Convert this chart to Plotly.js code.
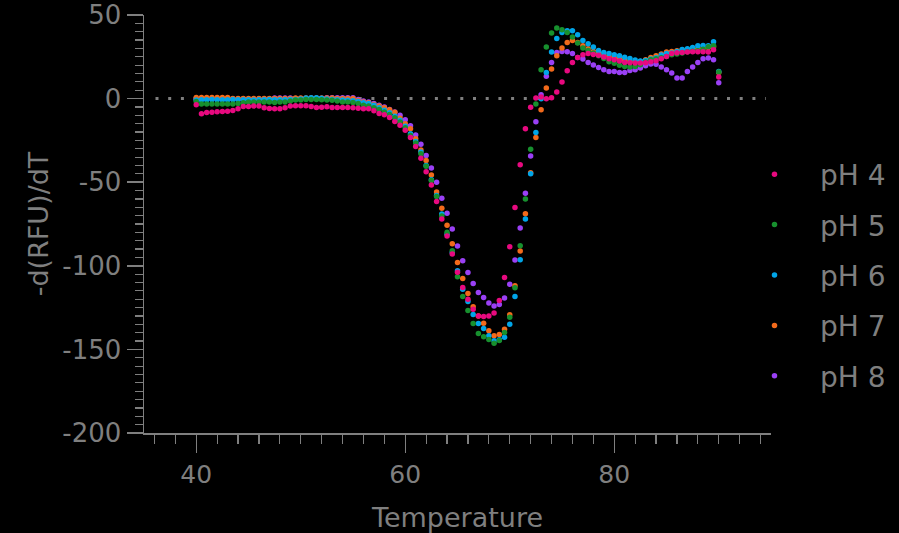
<!DOCTYPE html>
<html>
<head>
<meta charset="utf-8">
<script src="https://cdn.plot.ly/plotly-3.0.1.min.js"></script>
<style>html,body{margin:0;padding:0;background:#000;}#chart{width:899px;height:533px;}</style>
</head>
<body>
<div id="chart"></div>
<script>
var temperature = [40,40.5,41,41.5,42,42.5,43,43.5,44,44.5,45,45.5,46,46.5,47,47.5,48,48.5,49,49.5,
50,50.5,51,51.5,52,52.5,53,53.5,54,54.5,55,55.5,56,56.5,57,57.5,58,58.5,59,59.5,
60,60.5,61,61.5,62,62.5,63,63.5,64,64.5,65,65.5,66,66.5,67,67.5,68,68.5,69,69.5,
70,70.5,71,71.5,72,72.5,73,73.5,74,74.5,75,75.5,76,76.5,77,77.5,78,78.5,79,79.5,
80,80.5,81,81.5,82,82.5,83,83.5,84,84.5,85,85.5,86,86.5,87,87.5,88,88.5,89,89.5,90];

var seriesNames = ["pH 4","pH 5","pH 6","pH 7","pH 8"];

var pH4 = [-3.7,-9.1,-8.3,-8.1,-7.9,-7.7,-7.5,-7.1,-6.1,-4.7,-4.7,-4.5,-4.5,-5.5,-5.9,-6.1,-6.1,-5.5,-4.5,-4.3,
-4.3,-4.3,-4.7,-5.3,-5.1,-4.9,-5.3,-5.3,-5.3,-5.3,-5.5,-5.7,-6.1,-6.1,-7.3,-8.9,-9.7,-11.3,-13.7,-15.9,
-18.9,-23.3,-28.7,-35.7,-43.7,-51.6,-61.6,-72,-82.2,-93,-103.8,-113,-120,-126,-130,-130.3,-130,-128.2,-120.7,-107,
-88.6,-65.2,-39.5,-18.1,-5.1,0.3,0.9,-0.1,0.5,4,10,16.7,21.6,24.6,26.2,27,26.4,26,24.9,23.9,
23.3,22.5,21.6,21.4,21.3,21.3,21.4,22,22.6,23.8,25.2,27,27.4,27.6,27.8,28,28,28,27.8,29.2,12.9];

var pH5 = [-1.7,-3.3,-3.3,-3.3,-3.3,-3.3,-3.3,-3.3,-3.0,-2.5,-2.1,-2.1,-2.1,-2.1,-2.1,-2.3,-2.1,-2.1,-1.5,-0.8,
-0.8,-0.6,-0.5,-0.5,-0.7,-0.8,-1.0,-1.5,-2.0,-2.1,-2.3,-3.0,-4,-4.5,-5.5,-6.5,-8,-9.5,-11.5,-14,
-17.5,-22,-26.5,-33,-40.5,-49,-58.5,-70.2,-80,-91,-106.6,-118.3,-126.7,-134.5,-140.5,-142.5,-144.1,-146.3,-144.7,-139.9,
-130.7,-113.2,-88,-60,-30.3,-3.3,17.3,30.9,39.2,42.2,41.2,39.6,36.8,33.2,30.2,28.8,27.2,25.6,24.0,22,
21.1,20,19.2,18.9,19.2,20.2,21.9,23.2,23.8,24.4,25.2,26.2,26.7,27.3,28,28.3,28.6,29.5,31,31.6,15.9];

var pH6 = [-0.8,-0.7,-0.7,-0.6,-0.7,-0.7,-0.7,-0.6,-0.7,-0.7,-0.7,-0.8,-0.7,-0.7,-0.6,-0.7,-0.7,-0.7,-0.6,-0.5,
-0.3,0.3,0.5,0.5,0.2,-0.3,-0.5,-0.7,-0.8,-1.0,-1.3,-1.8,-2.5,-3,-4,-5.5,-7,-8.5,-10.5,-13,
-16.5,-21,-25.7,-32,-40,-48.5,-58,-69,-81.2,-92,-103,-114,-121.3,-129.1,-134.5,-137.5,-141.9,-144.9,-144.3,-142.7,
-134.9,-118.3,-96.4,-72,-45,-20.3,-0.1,15.6,27.9,36,39.6,40.6,40.6,38.2,34.8,32.8,30.8,28.8,27.6,27,
26.2,25.6,24.8,24,23.1,22.5,22.8,23.7,24.4,26.1,27,27.3,28.2,29.4,29.8,30.6,31.6,31.8,31.6,34,16.2];

var pH7 = [0.7,0.7,0.7,0.7,0.7,0.7,0.7,0.0,0.0,0.0,0.0,0.0,0.0,0.0,0.0,0.0,0.0,0.0,0.0,0.3,
0.3,0.3,0.3,0.3,0.3,0.3,0.3,0.0,0.0,0.0,0.0,-1.2,-2,-2.5,-3.5,-4.5,-5.5,-6.7,-8.1,-11.7,
-15,-18.1,-24,-30.7,-37,-45.7,-55.8,-65.6,-75.8,-86.8,-98,-107.6,-116.6,-124.5,-130,-134.3,-138.9,-141.9,-141.1,-138,
-129.3,-112,-91.2,-68.8,-44.3,-23.3,-6.7,6.3,17.7,25.6,30.3,33.6,34.8,33.6,31.6,29.8,28.2,27,26,25.2,
24.4,23.7,23,22.2,22,22.2,23.2,24.6,25.6,26.7,27.9,28.2,28.6,29,29.3,29.6,29.8,30,30.5,31,15.6];

var pH8 = [-0.3,-0.3,-0.3,-0.3,-0.3,-0.3,-0.3,-0.3,-0.3,-0.3,-0.3,-0.3,-0.3,-0.3,-0.3,0.3,0.3,0.3,0.3,0.0,
0.0,0.0,0.0,0.0,0.0,0.5,0.5,0.5,0.5,0.5,0.5,-0.5,-1.5,-2,-3,-4,-5,-6.5,-8,-10,
-12.7,-16.3,-21.7,-27.3,-34,-41.5,-50,-59.6,-68.6,-78,-88.2,-97,-104,-110.6,-116,-118.9,-122.2,-124,-123.1,-119.2,
-111.1,-96.6,-77.4,-56.6,-34.3,-13.9,2.3,13.3,21.6,27.6,28.2,28,27,24.6,23.7,21.6,20.1,18.6,17.3,16.2,
16.2,15.6,15.6,16.8,17.3,18.3,19.7,20.7,20.5,18.9,17.3,15.3,12.3,12.3,16.2,18.9,21.6,23.8,24.3,23.2,9.5];

var seriesValues = [pH4, pH5, pH6, pH7, pH8];
var seriesColors = ["#e8097f", "#17902e", "#00a5e8", "#f26a1b", "#9a40f5"];

var xTickVals = [40, 60, 80];
var xTickText = ["40", "60", "80"];
var yTickVals = [-200, -150, -100, -50, 0, 50];
var yTickText = ["-200", "-150", "-100", "-50", "0", "50"];

var gray = "#7f7f7f";
var fontFam = "DejaVu Sans, sans-serif";

var traces = [];
for (var i = seriesNames.length - 1; i >= 0; i--) {
  traces.push({
    type: "scatter",
    mode: "markers",
    name: seriesNames[i],
    legendgroup: "g" + i,
    legendrank: i + 1,
    x: temperature,
    y: seriesValues[i],
    marker: {color: seriesColors[i], size: 5.5},
    hoverinfo: "skip"
  });
}

var layout = {
  width: 899,
  height: 533,
  paper_bgcolor: "#000",
  plot_bgcolor: "#000",
  margin: {l: 144, r: 128, t: 15, b: 100, autoexpand: false},
  font: {family: fontFam, color: gray},
  showlegend: true,
  legend: {
    x: 0.933, xanchor: "left",
    y: 0.378, yanchor: "middle",
    traceorder: "grouped",
    tracegroupgap: 11,
    itemwidth: 81,
    bgcolor: "rgba(0,0,0,0)",
    font: {family: fontFam, size: 28, color: gray}
  },
  xaxis: {
    range: [35, 95],
    showgrid: false, zeroline: false,
    showline: true, linecolor: gray, linewidth: 1.5,
    ticks: "outside", ticklen: 18, tickwidth: 1.5, tickcolor: gray,
    tickmode: "array", tickvals: xTickVals, ticktext: xTickText,
    tickfont: {family: fontFam, size: 25, color: gray},
    minor: {dtick: 2, tick0: 0, ticks: "outside", ticklen: 9, tickwidth: 1.2, tickcolor: gray, showgrid: false},
    title: {text: "Temperature", font: {family: fontFam, size: 27, color: gray}, standoff: 20}
  },
  yaxis: {
    range: [-200, 50],
    showgrid: false, zeroline: false,
    showline: true, linecolor: gray, linewidth: 1.5,
    ticks: "outside", ticklen: 16, tickwidth: 1.5, tickcolor: gray,
    tickmode: "array", tickvals: yTickVals, ticktext: yTickText,
    tickfont: {family: fontFam, size: 26, color: gray},
    minor: {dtick: 5, tick0: 0, ticks: "outside", ticklen: 8, tickwidth: 1.2, tickcolor: gray, showgrid: false},
    title: {text: "-d(RFU)/dT", font: {family: fontFam, size: 27, color: gray}, standoff: 6}
  },
  shapes: [{
    type: "line", xref: "x", yref: "y",
    x0: 36.1, x1: 94.5, y0: 0, y1: 0,
    line: {color: gray, width: 3, dash: "3px,9.7px"},
    layer: "below"
  }]
};

Plotly.newPlot("chart", traces, layout, {staticPlot: true, displayModeBar: false});
</script>
</body>
</html>
